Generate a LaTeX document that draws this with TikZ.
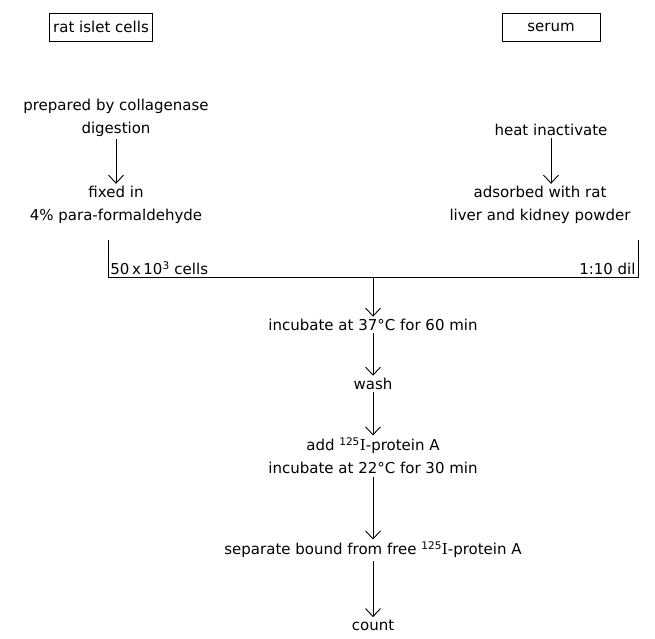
\documentclass[tikz,border=0pt]{standalone}
\usepackage{fontspec}
\setmainfont{DejaVu Sans}
\newfontfamily\romanI{DejaVu Serif}
\usetikzlibrary{arrows.meta}
\newcommand{\isoI}{\textsuperscript{125}{\romanI I}}

\begin{document}
\begin{tikzpicture}[x=1pt, y=-1pt, line width=0.9pt,
  every node/.style={inner sep=2pt, align=center, font=\fontsize{15}{23}\selectfont},
  stepto/.style={-{Straight Barb[length=8pt,width=15pt]}},
  source/.style={draw, rectangle, inner sep=4pt, minimum height=28pt}]
\useasboundingbox (0,0) rectangle (655,638);
% starting materials
\node[source] (islet) at (101,27) {rat islet cells};
\node[source, minimum width=98pt] (serum) at (551,27) {serum};
% cell branch
\node (prep) at (116,118) {prepared by collagenase\\digestion};
\node (fixed) at (116,205) {fixed in\\4\% para-formaldehyde};
\draw[stepto] (prep) -- (fixed);
% serum branch
\node (heat) at (551,130) {heat inactivate};
\node (adsorb) at (540,205) {adsorbed with rat\\liver and kidney powder};
\draw[stepto] (heat.south) -- (heat.south |- adsorb.north);
% mixing
\coordinate (ltop) at (108,240);
\coordinate (lbot) at (108,277);
\coordinate (rtop) at (638,240);
\coordinate (rbot) at (638,277);
\coordinate (mix) at (373,277);
\draw (ltop) -- (lbot) -- (rbot) -- (rtop);
\node[anchor=south west] (cells) at (lbot) {50\,x\,10\textsuperscript{3} cells};
\node[anchor=south east] (dil) at (rbot) {1:10 dil};
% assay steps
\node (incub) at (373,325) {incubate at 37°C for 60 min};
\node (wash) at (373,384) {wash};
\node (addA) at (373,456) {add \isoI-protein A\\incubate at 22°C for 30 min};
\node (sep) at (373,550) {separate bound from free \isoI-protein A};
\node (count) at (373,625) {count};
\draw[stepto] (mix) -- (incub);
\draw[stepto] (incub) -- (wash);
\draw[stepto] (wash) -- (addA);
\draw[stepto] (addA) -- (sep);
\draw[stepto] (sep) -- (count);
\end{tikzpicture}
\end{document}
